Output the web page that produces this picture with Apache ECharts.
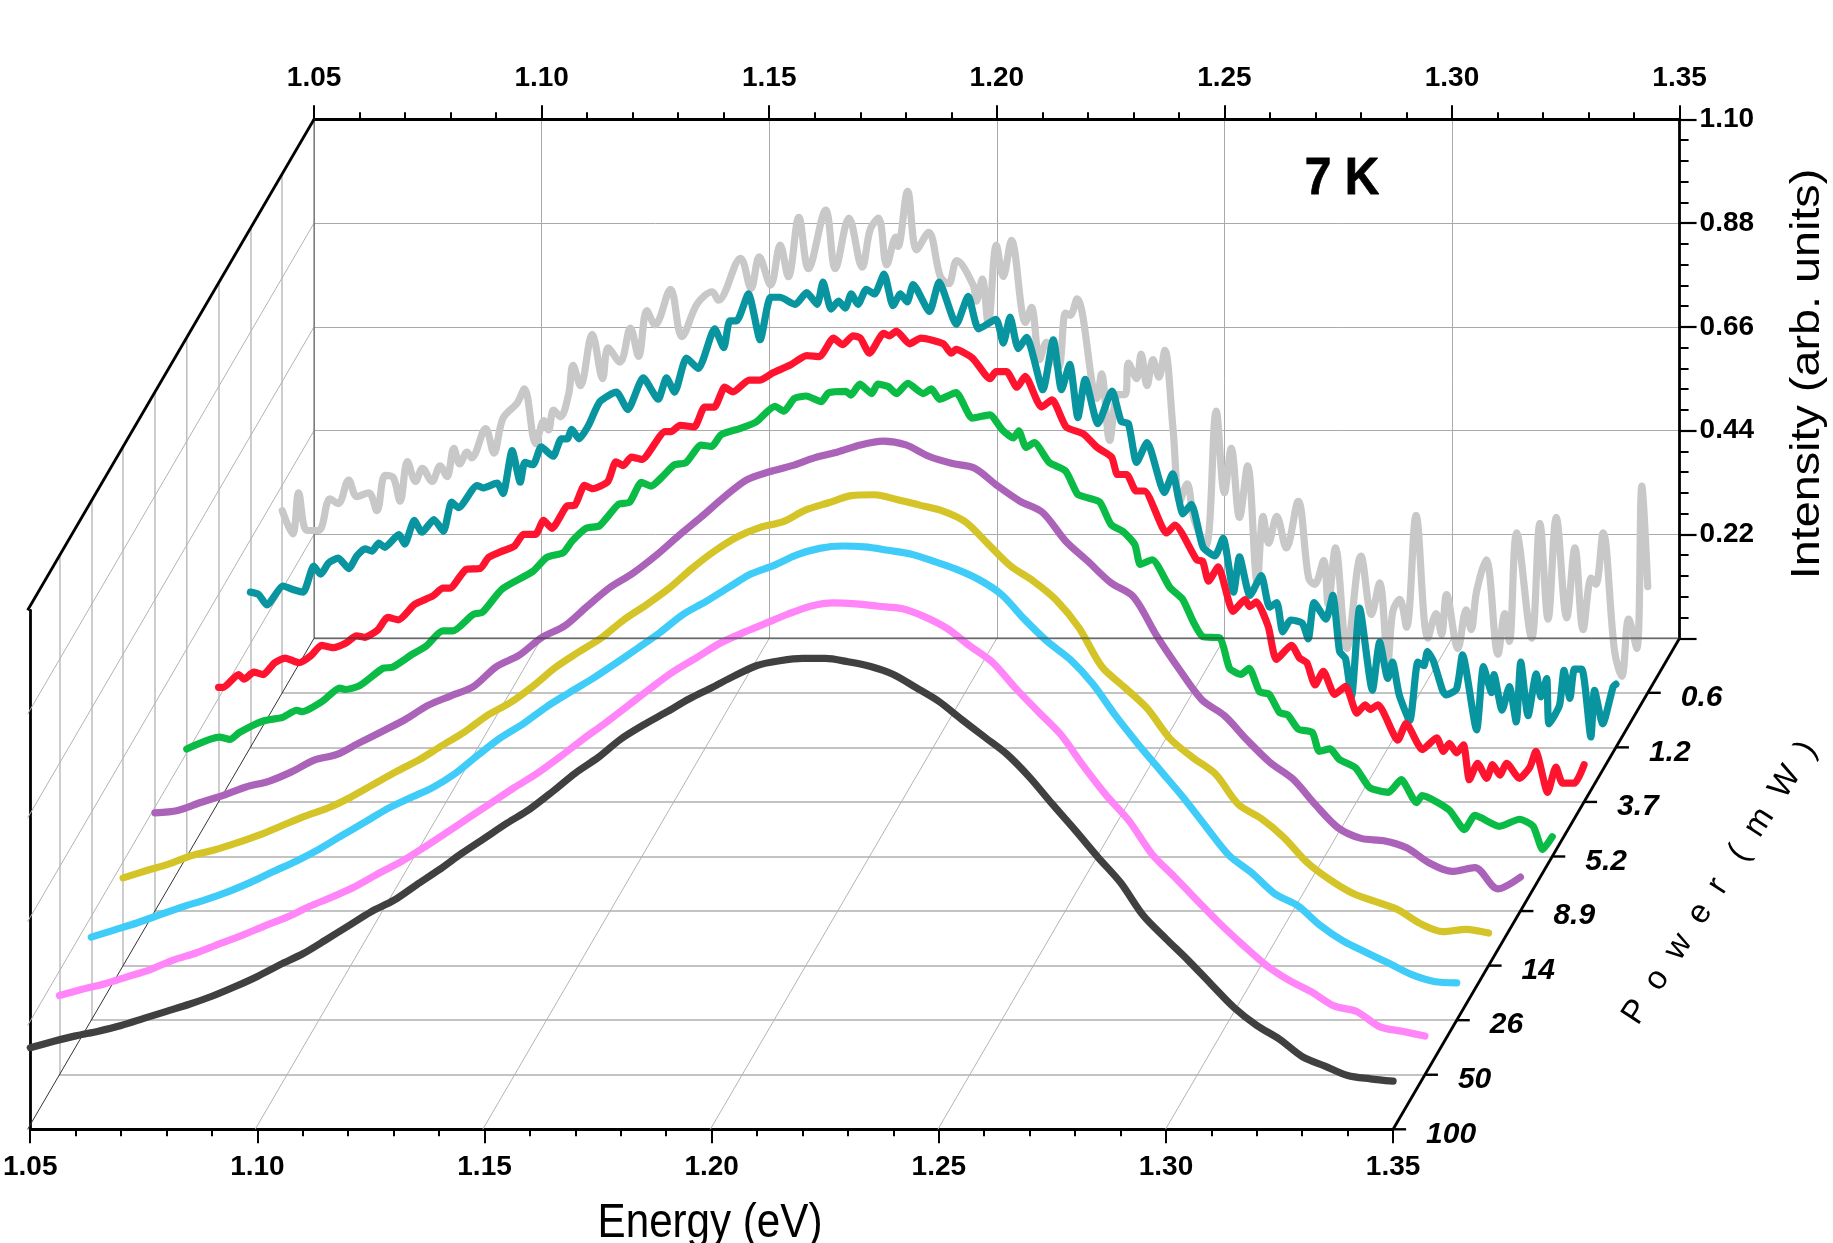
<!DOCTYPE html>
<html><head><meta charset="utf-8">
<style>html,body{margin:0;padding:0;background:#fff}#c{width:1833px;height:1243px}</style>
<script src="https://cdn.jsdelivr.net/npm/echarts@6/dist/echarts.min.js"></script>
</head><body><div id="c"></div>
<script>
const powerLabels = ['100','50','26','14','8.9','5.2','3.7','1.2','0.6'];
const energyLabels = [1.05,1.10,1.15,1.20,1.25,1.30,1.35];
const intensityTicks = [0.22,0.44,0.66,0.88,1.10];
const seriesColors = ['#404040','#ff85f8','#40ccf8','#d4c428','#ab62b9','#0abb45','#ff1430','#08959f','#c8c8c8'];

const energyGrid = [1.05,1.055,1.06,1.065,1.07,1.075,1.08,1.085,1.09,1.095,1.10,1.105,1.11,1.115,1.12,1.125,1.13,1.135,1.14,1.145,1.15,1.155,1.16,1.165,1.17,1.175,1.18,1.185,1.19,1.195,1.20,1.205,1.21,1.215,1.22,1.225,1.23,1.235,1.24,1.245,1.25,1.255,1.26,1.265,1.27,1.275,1.28,1.285,1.29,1.295,1.30,1.305,1.31,1.315,1.32,1.325,1.33,1.335,1.34,1.345,1.35];

const i100 = [.173,.186,.198,.208,.220,.235,.250,.265,.282,.302,.324,.349,.372,.401,.431,.461,.485,.518,.550,.585,.617,.649,.679,.716,.755,.788,.827,.857,.884,.912,.936,.961,.983,.993,.998,.998,.991,.981,.964,.936,.907,.869,.832,.795,.746,.689,.634,.577,.523,.453,.404,.357,.307,.258,.220,.191,.154,.134,.114,.107,.102];
const i50 = [.168,.181,.193,.208,.223,.243,.258,.277,.295,.315,.334,.357,.377,.399,.426,.451,.481,.513,.545,.577,.609,.639,.674,.711,.746,.783,.820,.855,.884,.914,.936,.956,.976,.993,1.0,.998,.993,.988,.971,.946,.909,.874,.820,.770,.721,.654,.592,.538,.468,.419,.369,.320,.275,.233,.201,.176,.146,.134,.102,.092,.082];
const i26 = [.176,.191,.206,.223,.240,.255,.272,.292,.315,.337,.362,.391,.419,.448,.471,.493,.523,.562,.599,.629,.664,.694,.723,.755,.788,.822,.860,.887,.917,.946,.964,.986,1.0,1.005,1.003,.996,.988,.973,.956,.934,.902,.850,.803,.765,.713,.646,.585,.528,.471,.409,.349,.312,.268,.243,.201,.168,.144,.121,.097,.082,.079];
const i14 = [.186,.201,.215,.233,.245,.260,.277,.297,.317,.334,.357,.384,.411,.436,.466,.495,.530,.557,.592,.632,.664,.694,.733,.765,.800,.842,.879,.909,.929,.941,.966,.981,.996,.998,.988,.976,.964,.941,.894,.847,.815,.775,.716,.634,.590,.545,.481,.441,.406,.342,.312,.272,.220,.183,.154,.136,.119,.089,.072,.077,.069];
const i8_9 = [.208,.213,.230,.245,.263,.275,.295,.320,.332,.357,.381,.406,.436,.456,.476,.518,.542,.580,.604,.646,.686,.716,.753,.795,.835,.877,.914,.931,.944,.961,.973,.988,.996,.988,.964,.949,.939,.902,.869,.845,.785,.741,.696,.666,.585,.513,.448,.414,.362,.315,.280,.225,.176,.154,.149,.134,.102,.084,.092,.047,.072];

const e5_2 = [1.05,1.0572,1.0595,1.0616,1.0667,1.0711,1.0741,1.0754,1.0798,1.0836,1.0849,1.088,1.0931,1.0952,1.0996,1.1026,1.1062,1.1085,1.1129,1.115,1.1193,1.126,1.1291,1.1327,1.1347,1.1378,1.1407,1.1448,1.1473,1.1499,1.152,1.1545,1.1571,1.1597,1.163,1.1653,1.1674,1.1715,1.1751,1.1792,1.1812,1.1835,1.1861,1.1894,1.191,1.1948,1.1959,1.1979,1.2005,1.2018,1.2041,1.2059,1.2084,1.2118,1.2136,1.2154,1.219,1.2226,1.2264,1.2292,1.2316,1.2328,1.2344,1.2362,1.2395,1.2431,1.2457,1.248,1.2506,1.2531,1.2557,1.2583,1.2595,1.2621,1.266,1.2688,1.2711,1.2732,1.277,1.2791,1.2816,1.2834,1.2857,1.2878,1.2901,1.2919,1.2942,1.2973,1.2988,1.3012,1.3032,1.3068,1.3099,1.314,1.3168,1.3202,1.3214,1.3273,1.3307,1.333,1.3384,1.3428,1.3458,1.3479,1.35];
const i5_2 = [.228,.253,.248,.263,.287,.295,.310,.307,.329,.357,.354,.362,.399,.401,.429,.446,.478,.478,.513,.518,.567,.604,.634,.644,.669,.696,.701,.746,.751,.793,.785,.805,.830,.835,.872,.869,.894,.907,.921,.954,.944,.971,.976,.964,.983,.986,.978,1.001,.981,1.001,.996,.981,1.003,.981,.991,.969,.983,.929,.936,.904,.887,.902,.867,.877,.835,.817,.768,.760,.751,.703,.689,.661,.619,.629,.570,.545,.498,.466,.463,.399,.386,.399,.349,.344,.305,.300,.270,.263,.223,.228,.206,.188,.146,.136,.163,.114,.129,.099,.057,.087,.064,.079,.064,.015,.042];

const e3_7 = [1.05,1.051,1.0544,1.0556,1.0577,1.0598,1.0623,1.0646,1.0677,1.0703,1.0726,1.0752,1.078,1.0803,1.0821,1.0849,1.0872,1.0895,1.0931,1.097,1.0993,1.1008,1.1044,1.1075,1.1093,1.1119,1.115,1.117,1.1196,1.1214,1.1232,1.1265,1.1283,1.1304,1.1322,1.1355,1.1373,1.1389,1.1407,1.143,1.1481,1.1494,1.1514,1.1545,1.1568,1.1589,1.1612,1.163,1.1666,1.1689,1.1717,1.1756,1.1792,1.182,1.1851,1.1871,1.1894,1.191,1.193,1.1961,1.1974,1.1989,1.2018,1.2043,1.2092,1.211,1.212,1.2156,1.2195,1.2208,1.2231,1.2254,1.2272,1.2308,1.2331,1.2362,1.24,1.2431,1.2462,1.2475,1.2495,1.2516,1.2534,1.2583,1.2601,1.2649,1.2662,1.2675,1.2696,1.2729,1.2755,1.2765,1.278,1.2806,1.2824,1.2857,1.2875,1.2891,1.2909,1.2927,1.2952,1.2976,1.3001,1.3019,1.303,1.3047,1.3091,1.3109,1.3145,1.3176,1.3191,1.3204,1.322,1.3235,1.3248,1.3266,1.3286,1.3299,1.3315,1.333,1.3358,1.3381,1.3394,1.342,1.3438,1.3453,1.3479,1.35];
const i3_7 = [.243,.243,.270,.260,.275,.270,.295,.305,.295,.310,.332,.327,.337,.352,.349,.364,.391,.386,.419,.436,.453,.453,.493,.495,.518,.530,.542,.567,.567,.597,.580,.627,.629,.671,.664,.679,.721,.713,.731,.726,.785,.785,.798,.795,.837,.837,.879,.869,.894,.894,.909,.926,.946,.944,.983,.969,.988,.983,.951,.993,.988,.998,.971,.983,.971,.951,.959,.941,.897,.912,.912,.879,.902,.837,.852,.795,.780,.751,.731,.694,.694,.659,.659,.570,.587,.513,.510,.468,.498,.404,.429,.414,.424,.372,.302,.332,.305,.295,.248,.277,.228,.245,.188,.206,.196,.206,.131,.166,.111,.136,.107,.124,.104,.121,.047,.082,.050,.079,.057,.082,.050,.074,.107,.020,.074,.040,.040,.079];

const e1_2 = [1.05,1.0518,1.0536,1.0572,1.0595,1.0616,1.0639,1.0654,1.0672,1.0693,1.0716,1.0734,1.0752,1.0767,1.0782,1.0795,1.0826,1.0839,1.086,1.0877,1.0903,1.0924,1.0942,1.0957,1.0998,1.1011,1.1042,1.1055,1.1075,1.1093,1.1103,1.1121,1.1139,1.1165,1.1183,1.1196,1.1206,1.1222,1.1242,1.1268,1.1304,1.1329,1.1363,1.1396,1.1414,1.1432,1.1458,1.1484,1.152,1.154,1.1553,1.1568,1.1594,1.162,1.1643,1.1663,1.1697,1.1722,1.1745,1.1758,1.1776,1.1792,1.1807,1.182,1.1835,1.1853,1.1871,1.1892,1.1912,1.1928,1.1943,1.1956,1.1992,1.2013,1.2051,1.2077,1.21,1.2138,1.2154,1.2169,1.2187,1.2205,1.2241,1.2264,1.2282,1.23,1.2318,1.2334,1.2362,1.2393,1.2413,1.2429,1.2447,1.247,1.2508,1.2526,1.2549,1.2567,1.2593,1.2619,1.2637,1.266,1.2673,1.2696,1.2721,1.2739,1.2755,1.2768,1.2786,1.2811,1.2824,1.2837,1.2863,1.2878,1.2893,1.2906,1.2919,1.2937,1.2965,1.2981,1.2999,1.3009,1.3024,1.3047,1.3065,1.3078,1.3086,1.3099,1.3119,1.3127,1.315,1.3163,1.3194,1.3209,1.3227,1.3232,1.325,1.3266,1.3281,1.3291,1.3307,1.3325,1.3335,1.3348,1.3353,1.3376,1.3386,1.3399,1.3409,1.3425,1.3445,1.3453,1.3471,1.3494,1.35];
const i1_2 = [.329,.324,.302,.342,.334,.329,.384,.367,.391,.401,.379,.406,.421,.416,.433,.424,.451,.431,.481,.456,.483,.458,.520,.508,.555,.550,.560,.538,.629,.562,.604,.599,.637,.617,.654,.654,.674,.654,.681,.733,.753,.716,.783,.738,.783,.753,.825,.803,.887,.847,.904,.904,.961,.864,.954,.954,.939,.964,.939,.986,.929,.946,.931,.961,.939,.971,.961,1.003,.936,.961,.944,.981,.924,.986,.897,.956,.887,.907,.857,.912,.845,.869,.758,.864,.758,.812,.699,.780,.686,.755,.691,.686,.604,.646,.540,.580,.495,.515,.424,.406,.443,.329,.404,.322,.364,.297,.307,.245,.270,.263,.230,.307,.272,.322,.203,.188,.107,.295,.121,.223,.146,.181,.111,.057,.181,.173,.203,.183,.121,.111,.124,.196,.037,.171,.116,.154,.079,.129,.054,.181,.067,.156,.107,.146,.050,.089,.163,.104,.166,.166,.022,.121,.050,.129,.134];

const e0_6 = [1.05,1.0523,1.0536,1.0554,1.058,1.0605,1.0623,1.0646,1.0664,1.069,1.0708,1.0726,1.0744,1.0759,1.0775,1.0793,1.0808,1.0829,1.0847,1.0862,1.0877,1.089,1.0906,1.0916,1.0947,1.0965,1.0985,1.1016,1.1032,1.1057,1.1075,1.1085,1.1096,1.1111,1.1129,1.1139,1.1155,1.1181,1.1204,1.1216,1.1242,1.1265,1.1283,1.1301,1.1319,1.1353,1.1378,1.1412,1.1445,1.1458,1.1507,1.153,1.1548,1.1573,1.1594,1.1612,1.1635,1.1656,1.1694,1.1715,1.1745,1.1774,1.1792,1.181,1.1828,1.1848,1.1853,1.1874,1.1894,1.192,1.1946,1.1964,1.1982,1.2018,1.2025,1.2038,1.2051,1.2069,1.2084,1.2102,1.2133,1.2146,1.2164,1.2179,1.2205,1.2221,1.2231,1.2246,1.229,1.23,1.2318,1.2336,1.2352,1.2359,1.2377,1.2387,1.24,1.2413,1.2426,1.2439,1.2457,1.2472,1.2488,1.2503,1.2529,1.2552,1.257,1.2585,1.2603,1.2621,1.2642,1.2655,1.2667,1.2685,1.2706,1.2732,1.2755,1.2768,1.2788,1.2798,1.2814,1.2839,1.287,1.2893,1.2911,1.2929,1.294,1.2955,1.297,1.2991,1.3017,1.3035,1.3047,1.3058,1.3083,1.3101,1.3112,1.3124,1.3145,1.3171,1.3186,1.3196,1.3212,1.3245,1.3263,1.3281,1.3299,1.3322,1.334,1.3358,1.3376,1.3386,1.3402,1.3427,1.3443,1.3458,1.3476,1.3487,1.35];
const i0_6 = [.386,.337,.424,.344,.344,.411,.401,.451,.416,.424,.386,.461,.456,.406,.490,.448,.476,.448,.481,.458,.518,.485,.510,.498,.560,.508,.582,.614,.644,.528,.577,.557,.599,.585,.632,.694,.651,.760,.666,.731,.701,.773,.713,.810,.780,.855,.755,.825,.850,.832,.921,.857,.924,.864,.949,.882,1.008,.899,1.023,.899,1.006,.902,.983,1.006,.907,.966,.946,1.063,.939,.976,.882,.867,.916,.864,.830,.877,.783,.949,.882,.959,.785,.817,.706,.743,.689,.805,.800,.835,.624,.676,.535,.632,.632,.699,.666,.718,.651,.706,.669,.726,.560,.406,.443,.369,.310,.597,.424,.518,.372,.481,.235,.374,.317,.374,.307,.406,.243,.230,.280,.188,.307,.094,.290,.166,.233,.067,.173,.198,.139,.376,.116,.168,.124,.208,.094,.176,.134,.215,.282,.082,.168,.109,.339,.116,.359,.156,.372,.159,.307,.134,.243,.230,.339,.089,.035,.156,.094,.438,.225];

const curves = [
  [energyGrid,i100,0.3],[energyGrid,i50,0.3],[energyGrid,i26,0.3],[energyGrid,i14,0.3],[energyGrid,i8_9,0.3],
  [e5_2,i5_2,0.2],[e3_7,i3_7,0.2],[e1_2,i1_2,0.2],[e0_6,i0_6,0.35]
];

// geometry of the pseudo-3D box
const W = 1365.5, H = 519, X0 = 27.6, Y0 = 1129.3, DX = 31.83, DY = 54.56, N = 9;
const left = k => X0 + DX * k, base = k => Y0 - DY * k;
const px = (k, e, v) => [left(k) + (e - 1.05) / 0.30 * W, base(k) - v / 1.10 * H];
const FONT = '"Liberation Sans", Arial, sans-serif';
const BLACK = {color:'#000',width:2.8};

const grids=[], xAxes=[], yAxes=[];
for (let k = 0; k <= N; k++) {
  grids.push({left:left(k), top:base(k)-H, width:W, height:H, show:false, containLabel:false});
  const front = k===0, back = k===N;
  const lbl = {show:front||back, fontFamily:FONT, fontWeight:'bold', fontSize:28, color:'#000',
               margin:front?24:27, formatter:v=>v.toFixed(2)};
  xAxes.push({gridIndex:k, type:'value', min:1.05, max:1.35, interval:0.05,
    position: back?'top':'bottom',
    axisLine:{show:true,onZero:false,lineStyle: (front||back)?BLACK:{color:'#b0b0b0',width:1.5}},
    axisTick:{show:front||back,length:14,lineStyle:{color:'#000',width:2}},
    minorTick:{show:front||back,splitNumber:5,length:7,lineStyle:{color:'#000',width:2}},
    axisLabel:lbl,
    splitLine:{show:back,lineStyle:{color:'#aaaaaa',width:1}},
    minorSplitLine:{show:false}, silent:true});
  yAxes.push({gridIndex:k, type:'value', min:0, max:1.10, interval:0.22,
    position: back?'right':'left',
    axisLine:{show:true,onZero:false,lineStyle: (front||back)?BLACK:{color:'#bdbdbd',width:1.5}},
    axisTick:{show:back,length:17,lineStyle:{color:'#000',width:2.2}},
    minorTick:{show:back,splitNumber:5,length:9,lineStyle:{color:'#000',width:2}},
    axisLabel:{show:back,fontFamily:FONT,fontWeight:'bold',fontSize:28,color:'#000',margin:20,
      formatter:v=>intensityTicks.some(t=>Math.abs(t-v)<1e-6)?v.toFixed(2):''},
    splitLine:{show:back,lineStyle:{color:'#aaaaaa',width:1}},
    minorSplitLine:{show:false}, silent:true});
}

const series = [];
for (let k = N-1; k >= 0; k--) {
  const [es, is, sm] = curves[k];
  series.push({type:'line', name:powerLabels[k], xAxisIndex:k, yAxisIndex:k, data:es.map((e,i)=>[e,is[i]]),
    showSymbol:false, symbol:'none', smooth:sm, clip:false, silent:true,
    lineStyle:{color:seriesColors[k],width:7.2,cap:'round',join:'round'}, animation:false});
}

const seg = (a,b,style,z=1)=>({type:'line',z,silent:true,shape:{x1:a[0],y1:a[1],x2:b[0],y2:b[1]},style});
const g = [];
// floor lines running in depth
energyLabels.slice(1,-1).forEach(e=>g.push(seg(px(0,e,0),px(N,e,0),{stroke:'#b4b4b4',lineWidth:1})));
g.push(seg(px(0,1.05,0),px(N,1.05,0),{stroke:'#333',lineWidth:1}));
// left-wall lines running in depth
intensityTicks.slice(0,-1).forEach(v=>g.push(seg(px(0,1.05,v),px(N,1.05,v),{stroke:'#b4b4b4',lineWidth:1})));
// box edges
g.push(seg(px(0,1.05,1.10),px(N,1.05,1.10),{stroke:'#000',lineWidth:2.8},3));
g.push(seg(px(0,1.35,0),px(N,1.35,0),{stroke:'#000',lineWidth:2.8},3));
g.push(seg(px(N,1.05,0),px(N,1.05,1.10),{stroke:'#666',lineWidth:1.2}));
g.push(seg(px(N,1.05,0),px(N,1.35,0),{stroke:'rgba(50,50,50,0.55)',lineWidth:2},30));
// power ticks and labels
powerLabels.forEach((t,k)=>{
  const p=px(k,1.35,0);
  g.push(seg(p,[p[0]+13,p[1]],{stroke:'#000',lineWidth:2.4},3));
  g.push({type:'text',z:3,silent:true,x:p[0]+33,y:p[1]+5,style:{text:t,textAlign:'left',textVerticalAlign:'middle',
    fontFamily:FONT,fontStyle:'italic',fontWeight:'bold',fontSize:30,fill:'#000'}});
});
// titles
g.push({type:'text',z:3,silent:true,x:1342,y:180,scaleX:0.92,style:{text:'7 K',textAlign:'center',textVerticalAlign:'middle',fontFamily:FONT,fontWeight:'bold',fontSize:52,fill:'#000',stroke:'#000',lineWidth:0.8}});
g.push({type:'text',z:3,silent:true,x:710,y:1223,scaleX:0.86,style:{text:'Energy (eV)',textAlign:'center',textVerticalAlign:'middle',fontFamily:FONT,fontSize:49,fill:'#000'}});
g.push({type:'text',z:3,silent:true,x:1808,y:374,rotation:Math.PI/2,scaleX:1.14,style:{text:'Intensity (arb. units)',textAlign:'center',textVerticalAlign:'middle',fontFamily:FONT,fontSize:41,fill:'#000'}});
g.push({type:'text',z:3,silent:true,x:1720,y:883,rotation:57*Math.PI/180,style:{text:'P  o  w  e  r   (  m  W  )',textAlign:'center',textVerticalAlign:'middle',fontFamily:FONT,fontSize:33,fill:'#000'}});

const chart = echarts.init(document.getElementById('c'),null,{renderer:'canvas',width:1833,height:1243});
chart.setOption({animation:false, backgroundColor:'#fff', grid:grids, xAxis:xAxes, yAxis:yAxes, series, graphic:{elements:g}});
</script></body></html>
